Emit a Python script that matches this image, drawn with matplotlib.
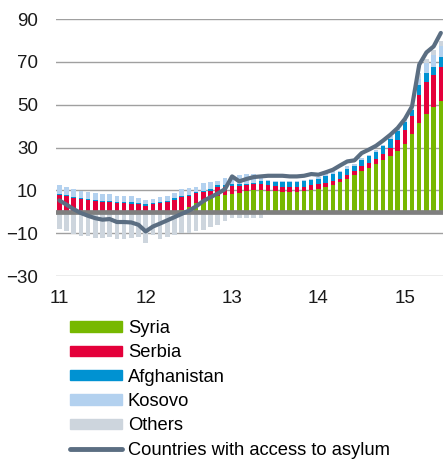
import numpy as np
import matplotlib
matplotlib.use("Agg")
import matplotlib.pyplot as plt
from matplotlib.patches import Patch
from matplotlib.lines import Line2D

plt.rcParams['font.family'] = ['Liberation Sans', 'DejaVu Sans']

# monthly, Jan 2011 .. Jun 2015 (contributions, percentage points)
syria = [0, 0, 0, 0, 0, 0, 0, 0, 0, 0, 0, 0, 0,
         0, 0, 0, 0.3, 1.0, 2.2, 4.0, 5.3, 6.4, 7.2, 8.0, 8.4, 8.7,
         9.5, 10.0, 10.0, 9.5, 9.5, 9.2, 9.2, 9.0, 9.5, 10.3, 10.7, 11.5, 12.6,
         13.9, 15.3, 17.0, 18.8, 20.2, 22.3, 24.0, 25.8, 28.5, 31.8, 36.4, 41.4, 45.8, 48.9, 51.9]
serbia = [7.9, 7.2, 6.4, 5.9, 5.4, 4.8, 4.5, 4.5, 4.0, 4.0, 3.7, 3.4, 2.9,
          3.6, 4.0, 4.4, 5.3, 5.9, 5.0, 4.7, 3.7, 3.1, 4.3, 3.5, 3.4, 3.1,
          2.8, 2.8, 2.9, 2.8, 2.3, 2.2, 2.2, 2.4, 2.1, 2.3, 2.4, 1.9, 1.6,
          1.5, 2.0, 2.2, 2.4, 2.5, 2.3, 3.1, 4.2, 5.1, 6.5, 8.1, 13.3, 14.8, 15.1, 15.5]
afghanistan = [0.5, 0.7, 0.6, 0.6, 0.7, 0.6, 0.7, 0.7, 0.7, 0.7, 0.9, 0.6, 0.6,
               0.6, 0.6, 0.6, 0.6, 0.6, 0.7, 0.7, 0.8, 0.9, 0.8, 1.0, 1.0, 1.0,
               0.7, 0.7, 1.3, 1.9, 2.1, 2.5, 2.5, 2.5, 2.9, 2.4, 2.2, 3.4, 3.6,
               3.1, 2.8, 2.3, 3.1, 3.1, 3.1, 3.4, 4.0, 3.9, 3.4, 3.2, 4.3, 4.2, 3.6, 4.7]
kosovo = [4.2, 3.6, 3.6, 3.3, 3.2, 3.3, 3.2, 3.2, 2.8, 2.8, 2.6, 2.4, 2.1,
          1.7, 2.3, 2.5, 2.5, 3.1, 3.2, 2.1, 3.6, 3.3, 1.9, 3.2, 4.0, 4.5,
          4.8, 4.3, 3.1, 0.4, 0.6, 0.4, 0.4, 0.4, 0.5, 0.5, 0.7, 1.6, 1.0,
          0.7, 1.1, 0.9, 0.8, 0.8, 0.9, 0.9, 1.2, 1.1, 1.6, 2.0, 3.0, 4.7, 5.7, 5.1]
others = [-8.0, -9.2, -10.5, -11.2, -11.5, -12.3, -12.3, -12.0, -12.8, -12.8, -12.3, -12.0, -14.6,
          -10.7, -12.8, -11.8, -10.7, -10.0, -10.0, -9.2, -8.4, -7.2, -6.1, -4.5, -3.0, -3.0,
          -3.0, -3.0, -3.0, -0.5, -0.3, -0.3, -0.3, -0.3, -0.3, -0.3, -0.3, 0, 0,
          0, 0, 0, 0, 0, 0, 0, 0, 0, 0, 0, 3.0, 2.0, 2.0, 2.5]
asylum = [5.3, 3.3, 1.2, -0.6, -1.9, -3.0, -3.7, -3.4, -4.8, -4.8, -5.0, -6.1, -9.2,
          -6.9, -5.5, -4.0, -2.5, -1.0, 0.5, 2.5, 5.0, 6.8, 8.5, 10.5, 16.5, 14.2,
          15.3, 16.2, 16.5, 16.8, 16.8, 16.8, 16.5, 16.5, 16.8, 17.6, 17.3, 18.4, 19.6,
          21.6, 23.5, 24.0, 27.4, 29.0, 30.8, 33.3, 36.0, 39.1, 43.3, 49.2, 68.7, 74.4, 77.2, 83.5]
year_labels = ['11', '12', '13', '14', '15']

c_syria = '#77b800'
c_serbia = '#e4003a'
c_afg = '#0092d2'
c_kos = '#b3d1ef'
c_oth = '#cdd5dd'
c_line = '#5b6e82'

x = np.arange(len(asylum))
w = 0.62

fig = plt.figure(figsize=(4.46, 4.61), dpi=100)
ax = fig.add_axes([56 / 446, 1 - 276 / 461, 387 / 446, 257 / 461])

for yv in [-30, -10, 10, 30, 50, 70, 90]:
    ax.axhline(yv, color='#a0a0a0', lw=1.0, zorder=0)

syria = np.array(syria)
serbia = np.array(serbia)
afghanistan = np.array(afghanistan)
kosovo = np.array(kosovo)
others = np.array(others)

b = np.zeros(len(x))
for vals, col in [(syria, c_syria), (serbia, c_serbia), (afghanistan, c_afg), (kosovo, c_kos)]:
    ax.bar(x, vals, w, bottom=b, color=col, lw=0, zorder=2)
    b = b + vals
oth_pos = np.where(others > 0, others, 0)
oth_neg = np.where(others < 0, others, 0)
ax.bar(x, oth_pos, w, bottom=b, color=c_oth, lw=0, zorder=2)
ax.bar(x, oth_neg, w, color=c_oth, lw=0, zorder=2)

ax.axhline(0, color='#7f7f7f', lw=3.4, zorder=3)
ax.plot(x, asylum, color=c_line, lw=3.0, solid_capstyle='round', solid_joinstyle='round', zorder=4)

ax.set_xlim(-0.46, 53.3)
ax.set_ylim(-30, 90)
ax.set_yticks([-30, -10, 10, 30, 50, 70, 90])
ax.set_xticks([0, 12, 24, 36, 48])
ax.set_xticklabels(year_labels)
ax.tick_params(length=0, labelsize=13.5, colors='#1a1a1a')
ax.tick_params(axis='y', pad=13)
ax.tick_params(axis='x', pad=10)
for s in ax.spines.values():
    s.set_visible(False)

handles = [Patch(color=c_syria), Patch(color=c_serbia), Patch(color=c_afg),
           Patch(color=c_kos), Patch(color=c_oth),
           Line2D([0], [0], color=c_line, lw=3.5, solid_capstyle='round')]
labels = ['Syria', 'Serbia', 'Afghanistan', 'Kosovo', 'Others', 'Countries with access to asylum']
fig.legend(handles, labels, loc='upper left', bbox_to_anchor=(70 / 446, 1 - 320 / 461),
           frameon=False, fontsize=13.2, handlelength=2.85, handleheight=0.5,
           labelspacing=0.40, handletextpad=0.3, borderpad=0, borderaxespad=0)

fig.savefig('out.png', dpi=100)
